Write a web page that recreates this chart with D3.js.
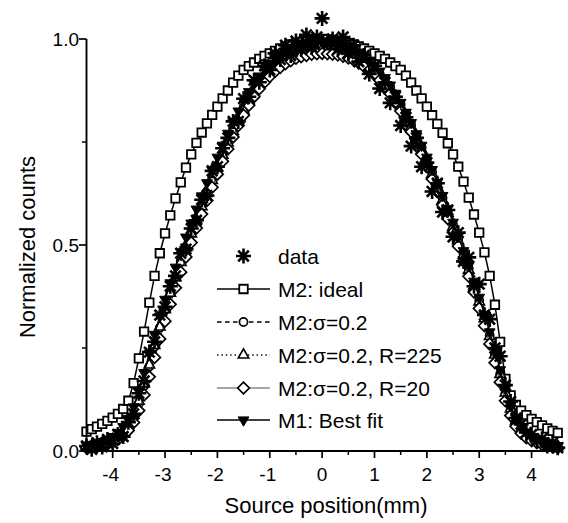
<!DOCTYPE html>
<html>
<head>
<meta charset="utf-8">
<script src="https://cdn.jsdelivr.net/npm/d3@7"></script>
<style>
  body { margin: 0; background: #fff; }
  svg text { font-family: "Liberation Sans", Arial, sans-serif; fill: #000; }
</style>
</head>
<body>
<svg id="chart" width="568" height="523"></svg>
<script>
const width = 568
const height = 523

// source positions (mm), shared by all series
const xs = [-4.5,-4.4,-4.3,-4.2,-4.1,-4.0,-3.9,-3.8,-3.7,-3.6,-3.5,-3.4,-3.3,-3.2,-3.1,-3.0,-2.9,-2.8,-2.7,-2.6,-2.5,-2.4,-2.3,-2.2,-2.1,-2.0,-1.9,-1.8,-1.7,-1.6,-1.5,-1.4,-1.3,-1.2,-1.1,-1.0,-0.9,-0.8,-0.7,-0.6,-0.5,-0.4,-0.3,-0.2,-0.1,
  0,
  0.1,0.2,0.3,0.4,0.5,0.6,0.7,0.8,0.9,1.0,1.1,1.2,1.3,1.4,1.5,1.6,1.7,1.8,1.9,2.0,2.1,2.2,2.3,2.4,2.5,2.6,2.7,2.8,2.9,3.0,3.1,3.2,3.3,3.4,3.5,3.6,3.7,3.8,3.9,4.0,4.1,4.2,4.3,4.4,4.5]

const dataCounts = [0.012,0.004,0.020,0.010,0.028,0.018,0.040,0.035,0.070,0.090,0.140,0.170,0.240,0.265,0.330,0.350,0.400,0.425,0.480,0.490,0.540,0.560,0.610,0.620,0.680,0.690,0.735,0.760,0.800,0.800,0.855,0.860,0.900,0.895,0.935,0.925,0.965,0.950,0.985,0.960,0.995,0.975,1.010,0.980,1.005,
  1.050,
  0.990,1.000,0.975,1.005,0.965,0.985,0.945,0.960,0.915,0.935,0.880,0.895,0.845,0.860,0.790,0.810,0.740,0.760,0.690,0.700,0.630,0.650,0.580,0.585,0.520,0.530,0.460,0.470,0.400,0.405,0.330,0.320,0.250,0.230,0.160,0.120,0.080,0.065,0.045,0.040,0.025,0.030,0.012,0.020,0.008]

const m2Ideal = [0.047,0.053,0.059,0.066,0.073,0.081,0.090,0.102,0.122,0.165,0.225,0.290,0.360,0.425,0.480,0.528,0.572,0.613,0.652,0.688,0.720,0.748,0.773,0.795,0.816,0.836,0.856,0.875,0.894,0.911,0.925,0.934,0.943,0.952,0.959,0.965,0.971,0.977,0.982,0.987,0.990,0.993,0.996,0.998,0.999,
  1.000,
  0.999,0.998,0.996,0.993,0.990,0.987,0.982,0.977,0.971,0.965,0.959,0.952,0.943,0.934,0.925,0.911,0.894,0.875,0.856,0.836,0.815,0.794,0.772,0.747,0.720,0.690,0.654,0.615,0.574,0.530,0.482,0.425,0.355,0.265,0.175,0.135,0.112,0.098,0.087,0.078,0.070,0.062,0.055,0.049,0.044]

const m2Sigma = [0.010,0.012,0.014,0.017,0.021,0.026,0.035,0.045,0.060,0.082,0.115,0.158,0.205,0.253,0.299,0.342,0.383,0.422,0.460,0.496,0.531,0.565,0.597,0.630,0.662,0.693,0.723,0.753,0.782,0.808,0.833,0.856,0.877,0.895,0.911,0.925,0.936,0.946,0.955,0.962,0.967,0.971,0.975,0.978,0.979,
  0.980,
  0.979,0.978,0.976,0.972,0.968,0.963,0.957,0.948,0.939,0.928,0.915,0.900,0.883,0.863,0.841,0.817,0.792,0.765,0.736,0.707,0.677,0.646,0.614,0.582,0.549,0.515,0.480,0.443,0.405,0.366,0.325,0.281,0.235,0.187,0.140,0.100,0.070,0.052,0.040,0.031,0.024,0.019,0.015,0.012,0.010]

const m2R225 = [0.011,0.013,0.015,0.018,0.022,0.028,0.037,0.048,0.064,0.087,0.121,0.163,0.209,0.256,0.301,0.343,0.383,0.421,0.458,0.493,0.527,0.561,0.593,0.625,0.657,0.688,0.718,0.748,0.776,0.803,0.828,0.851,0.872,0.890,0.906,0.920,0.931,0.941,0.950,0.957,0.962,0.966,0.970,0.973,0.974,
  0.975,
  0.974,0.973,0.971,0.967,0.963,0.958,0.952,0.943,0.934,0.923,0.910,0.895,0.878,0.858,0.836,0.812,0.787,0.760,0.731,0.702,0.672,0.641,0.609,0.577,0.544,0.510,0.475,0.439,0.401,0.362,0.321,0.278,0.233,0.186,0.141,0.102,0.073,0.054,0.041,0.032,0.025,0.020,0.016,0.013,0.011]

const m2R20 = [0.008,0.009,0.011,0.013,0.016,0.021,0.028,0.037,0.050,0.069,0.098,0.136,0.180,0.227,0.272,0.315,0.356,0.396,0.434,0.471,0.506,0.541,0.575,0.608,0.640,0.672,0.703,0.733,0.762,0.790,0.815,0.839,0.860,0.879,0.895,0.909,0.921,0.931,0.940,0.947,0.953,0.957,0.960,0.963,0.964,
  0.965,
  0.964,0.963,0.961,0.958,0.954,0.949,0.942,0.933,0.924,0.913,0.900,0.885,0.867,0.847,0.825,0.801,0.775,0.748,0.720,0.690,0.660,0.629,0.597,0.564,0.531,0.497,0.461,0.424,0.386,0.346,0.304,0.260,0.214,0.167,0.122,0.086,0.060,0.043,0.032,0.025,0.020,0.016,0.013,0.010,0.008]

const m1Fit = [0.014,0.016,0.019,0.023,0.028,0.035,0.045,0.059,0.079,0.107,0.145,0.190,0.237,0.283,0.327,0.368,0.408,0.446,0.483,0.519,0.553,0.587,0.619,0.651,0.682,0.713,0.742,0.771,0.799,0.825,0.849,0.872,0.892,0.910,0.926,0.940,0.952,0.962,0.970,0.977,0.983,0.987,0.991,0.993,0.994,
  0.995,
  0.994,0.993,0.990,0.986,0.981,0.975,0.968,0.959,0.948,0.936,0.922,0.906,0.888,0.868,0.846,0.822,0.797,0.770,0.742,0.713,0.683,0.652,0.620,0.588,0.555,0.521,0.486,0.450,0.412,0.373,0.332,0.289,0.244,0.197,0.151,0.110,0.079,0.058,0.044,0.034,0.027,0.022,0.018,0.015,0.013]

const xTicks = [-4, -3, -2, -1, 0, 1, 2, 3, 4]
const xMinor = [-4.5, -3.5, -2.5, -1.5, -0.5, 0.5, 1.5, 2.5, 3.5, 4.5]
const yTicks = [0, 0.5, 1.0]
const yMinor = [0.25, 0.75]

const legendLabels = ['data', 'M2: ideal', 'M2:\u03c3=0.2', 'M2:\u03c3=0.2, R=225', 'M2:\u03c3=0.2, R=20', 'M1: Best fit']

const svg = d3.select('#chart')

const xScale = d3.scaleLinear().domain([-4.5, 4.6]).range([86.5, 563])
const yScale = d3.scaleLinear().domain([0, 1]).range([451, 39])

// marker shapes
const starPath = r => {
  const d = r * 0.7071
  return `M0,${-r}L0,${r}M${-r},0L${r},0M${-d},${-d}L${d},${d}M${-d},${d}L${d},${-d}`
}
const diamondPath = r => `M0,${-r}L${r},0L0,${r}L${-r},0Z`

const series = [
  { key: 'ideal', values: m2Ideal, dash: null, lw: 1.5, marker: 'square' },
  { key: 'sigma', values: m2Sigma, dash: '4.5,3.5', lw: 1.3, marker: 'circle' },
  { key: 'r225', values: m2R225, dash: '1.4,3', lw: 1.3, marker: 'triangle' },
  { key: 'r20', values: m2R20, dash: null, lw: 0.7, marker: 'diamond' },
  { key: 'm1', values: m1Fit, dash: null, lw: 1.5, marker: 'tridown' },
  { key: 'data', values: dataCounts, dash: null, lw: 0, marker: 'star' }
]

function drawMarker(g, type) {
  if (type === 'square') {
    g.append('path').attr('d', d3.symbol(d3.symbolSquare, 72)())
      .attr('fill', '#fff').attr('stroke', '#000').attr('stroke-width', 1.8)
  } else if (type === 'circle') {
    g.append('path').attr('d', d3.symbol(d3.symbolCircle, 52)())
      .attr('fill', '#fff').attr('stroke', '#000').attr('stroke-width', 1.7)
  } else if (type === 'triangle') {
    g.append('path').attr('d', d3.symbol(d3.symbolTriangle, 48)())
      .attr('fill', '#fff').attr('stroke', '#000').attr('stroke-width', 1.6)
  } else if (type === 'diamond') {
    g.append('path').attr('d', diamondPath(5.8))
      .attr('fill', '#fff').attr('stroke', '#000').attr('stroke-width', 1.7)
  } else if (type === 'tridown') {
    g.append('path').attr('d', d3.symbol(d3.symbolTriangle, 50)())
      .attr('transform', 'rotate(180)')
      .attr('fill', '#000').attr('stroke', '#000').attr('stroke-width', 1)
  } else if (type === 'star') {
    g.append('path').attr('d', starPath(7.5))
      .attr('fill', 'none').attr('stroke', '#000').attr('stroke-width', 2.6)
  }
}

// curves
const line = d3.line().x(d => xScale(d[0])).y(d => yScale(d[1]))
series.forEach(s => {
  const pts = xs.map((x, i) => [x, s.values[i]])
  if (s.lw > 0) {
    svg.append('path').attr('d', line(pts))
      .attr('fill', 'none').attr('stroke', '#000')
      .attr('stroke-width', s.lw)
      .attr('stroke-dasharray', s.dash)
  }
  svg.append('g').attr('class', 'pts-' + s.key)
    .selectAll('g').data(pts).enter().append('g')
    .attr('transform', d => `translate(${xScale(d[0])},${yScale(d[1])})`)
    .each(function () { drawMarker(d3.select(this), s.marker) })
})

// axes
const axisG = svg.append('g')
axisG.append('line').attr('x1', 86.5).attr('x2', 86.5).attr('y1', 39).attr('y2', 451)
  .attr('stroke', '#000').attr('stroke-width', 1.9)
axisG.append('line').attr('x1', 86.5).attr('x2', 563).attr('y1', 451).attr('y2', 451)
  .attr('stroke', '#000').attr('stroke-width', 1.9)

axisG.selectAll('line.xt').data(xTicks).enter().append('line')
  .attr('x1', d => xScale(d)).attr('x2', d => xScale(d))
  .attr('y1', 451).attr('y2', 458).attr('stroke', '#000').attr('stroke-width', 1.7)
axisG.selectAll('line.xm').data(xMinor).enter().append('line')
  .attr('x1', d => xScale(d)).attr('x2', d => xScale(d))
  .attr('y1', 451).attr('y2', 455).attr('stroke', '#000').attr('stroke-width', 1.5)
axisG.selectAll('text.xl').data(xTicks).enter().append('text')
  .attr('x', d => xScale(d) - (d < 0 ? 2 : 0)).attr('y', 481)
  .attr('text-anchor', 'middle').style('font-size', '19px')
  .text(d => d)

axisG.selectAll('line.yt').data(yTicks).enter().append('line')
  .attr('x1', 79).attr('x2', 86.5)
  .attr('y1', d => yScale(d)).attr('y2', d => yScale(d))
  .attr('stroke', '#000').attr('stroke-width', 1.7)
axisG.selectAll('line.ym').data(yMinor).enter().append('line')
  .attr('x1', 82).attr('x2', 86.5)
  .attr('y1', d => yScale(d)).attr('y2', d => yScale(d))
  .attr('stroke', '#000').attr('stroke-width', 1.5)
axisG.selectAll('text.yl').data(yTicks).enter().append('text')
  .attr('x', 79).attr('y', d => yScale(d) + 7)
  .attr('text-anchor', 'end').style('font-size', '19px')
  .text(d => d.toFixed(1))

// axis titles
svg.append('text')
  .attr('transform', 'translate(35,247) rotate(-90)')
  .attr('text-anchor', 'middle').style('font-size', '22px')
  .text('Normalized counts')
svg.append('text')
  .attr('x', 326).attr('y', 513)
  .attr('text-anchor', 'middle').style('font-size', '22px')
  .text('Source position(mm)')

// legend
const legendY = [256, 289, 322, 355, 388, 420]
const legendOrder = ['data', 'ideal', 'sigma', 'r225', 'r20', 'm1']
legendOrder.forEach((k, i) => {
  const s = series.find(d => d.key === k)
  const y = legendY[i]
  if (s.lw > 0) {
    svg.append('line').attr('x1', 217).attr('x2', 270).attr('y1', y).attr('y2', y)
      .attr('stroke', '#000').attr('stroke-width', s.lw)
      .attr('stroke-dasharray', s.dash)
  }
  const g = svg.append('g').attr('transform', `translate(243.5,${y})`)
  drawMarker(g, s.marker)
  svg.append('text').attr('x', 278).attr('y', y + 7.5)
    .style('font-size', '21px')
    .text(legendLabels[i])
})
</script>
</body>
</html>
